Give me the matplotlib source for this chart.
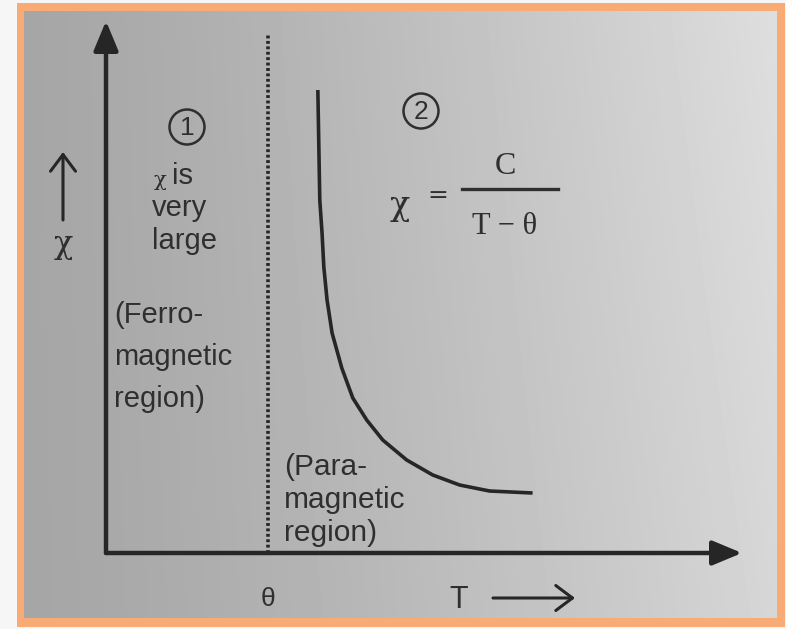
import numpy as np
import matplotlib.pyplot as plt
from matplotlib.patches import Rectangle, Circle

# Curie-Weiss behaviour, chi vs T in arbitrary units (theta = 1)
theta = 1.0
t_max = 3.93
chi_max = 5.32
theta_line_top = 5.2

curve_t = [1.309, 1.315, 1.321, 1.335, 1.346, 1.366, 1.397, 1.457, 1.525,
           1.611, 1.710, 1.858, 2.019, 2.185, 2.370, 2.636]
curve_chi = [4.63, 4.08, 3.53, 3.20, 2.86, 2.53, 2.20, 1.85, 1.55,
             1.33, 1.13, 0.93, 0.78, 0.68, 0.62, 0.60]

large_lines = ["is", "very", "large"]
ferro_lines = ["(Ferro-", "magnetic", "region)"]
para_lines = ["(Para-", "magnetic", "region)"]

INK = "#262626"
TXT = "#2f2f2f"
SANS = "Liberation Sans"
SERIF = "Liberation Serif"
GREEK = "DejaVu Serif"

W, H = 786, 629
fig = plt.figure(figsize=(W / 100, H / 100), dpi=100, facecolor="#f6f6f6")

# page layer in pixel units: frame, paper shading, labels
bg = fig.add_axes([0, 0, 1, 1])
bg.axis("off")
bg.add_patch(Rectangle((17, 3), 768, 624, fc="#f8ab74", ec="none", zorder=0))
gx, gy = np.meshgrid(np.linspace(0, 1, 240), np.linspace(0, 1, 200))
shade = 0.65 + 0.19 * gx ** 1.3 + 0.03 * (1 - gy) * gx
bg.imshow(shade, cmap="gray", vmin=0, vmax=1, extent=(24, 777, 618, 11),
          aspect="auto", interpolation="bilinear", zorder=1)
bg.set_xlim(0, W)
bg.set_ylim(H, 0)

# chart axes, origin of the T-chi plot
ox, oy = 106, 553
ax = fig.add_axes([ox / W, (H - oy) / H, (742 - ox) / W, (oy - 21) / H])
ax.set_xlim(0, t_max)
ax.set_ylim(0, chi_max)
ax.axis("off")
ax.patch.set_alpha(0)

head = dict(arrowstyle="-|>,head_length=0.6,head_width=0.25", lw=3.2,
            color=INK, mutation_scale=30, shrinkA=0, shrinkB=0)
ax.annotate("", xy=(t_max, 0), xytext=(0, 0), arrowprops=head)
ax.annotate("", xy=(0, chi_max), xytext=(0, 0), arrowprops=head)

ax.plot([theta, theta], [0, theta_line_top], color=INK, lw=2.6,
        linestyle=(0, (0.8, 0.7)))
ax.plot(curve_t, curve_chi, color=INK, lw=2.6, solid_capstyle="butt",
        solid_joinstyle="round")

# region markers
for (cx, cy), num in [((187, 127), "1"), ((421, 111), "2")]:
    bg.add_patch(Circle((cx, cy), 17.5, fc="none", ec=TXT, lw=1.8, zorder=3))
    bg.text(cx, cy + 1, num, ha="center", va="center", fontsize=19,
            family=SANS, color=TXT, zorder=3)

bg.text(160, 180, "\u03c7", ha="center", va="center", fontsize=15,
        family=GREEK, color=TXT, zorder=3)
for (x, y), s in zip([(172, 176), (152, 208), (152, 241)], large_lines):
    bg.text(x, y, s, ha="left", va="center", fontsize=21, family=SANS,
            color=TXT, zorder=3)
for y, s in zip([315, 357, 399], ferro_lines):
    bg.text(114, y, s, ha="left", va="center", fontsize=21, family=SANS,
            color=TXT, zorder=3)
for y, s in zip([467, 500, 533], para_lines):
    bg.text(284, y, s, ha="left", va="center", fontsize=21.5, family=SANS,
            color=TXT, zorder=3)

# Curie-Weiss law
bg.text(400, 206, "\u03c7", ha="center", va="center", fontsize=24,
        family=GREEK, color=TXT, zorder=3)
bg.text(438, 195, "=", ha="center", va="center", fontsize=18,
        family=GREEK, color=TXT, zorder=3)
bg.plot([462, 558], [189, 189], color=TXT, lw=2.4, zorder=3)
bg.text(505, 166, "C", ha="center", va="center", fontsize=23,
        family=SERIF, color=TXT, zorder=3)
bg.text(505, 226, "T \u2212 \u03b8", ha="center", va="center", fontsize=22,
        family=SERIF, color=TXT, zorder=3)

# axis labels
small = dict(arrowstyle="->,head_length=0.6,head_width=0.45", lw=2.2,
             color=INK, mutation_scale=20, shrinkA=0, shrinkB=0)
bg.annotate("", xy=(63, 152), xytext=(63, 220), arrowprops=small, zorder=3)
bg.text(63, 245, "\u03c7", ha="center", va="center", fontsize=23,
        family=GREEK, color=TXT, zorder=3)
bg.annotate("", xy=(575, 598), xytext=(493, 598), arrowprops=small, zorder=3)
bg.text(459, 600, "T", ha="center", va="center", fontsize=22,
        family=SANS, color=TXT, zorder=3)
bg.text(268, 599, "\u03b8", ha="center", va="center", fontsize=19,
        family=SANS, color=TXT, zorder=3)

fig.savefig("out.png", dpi=100)
